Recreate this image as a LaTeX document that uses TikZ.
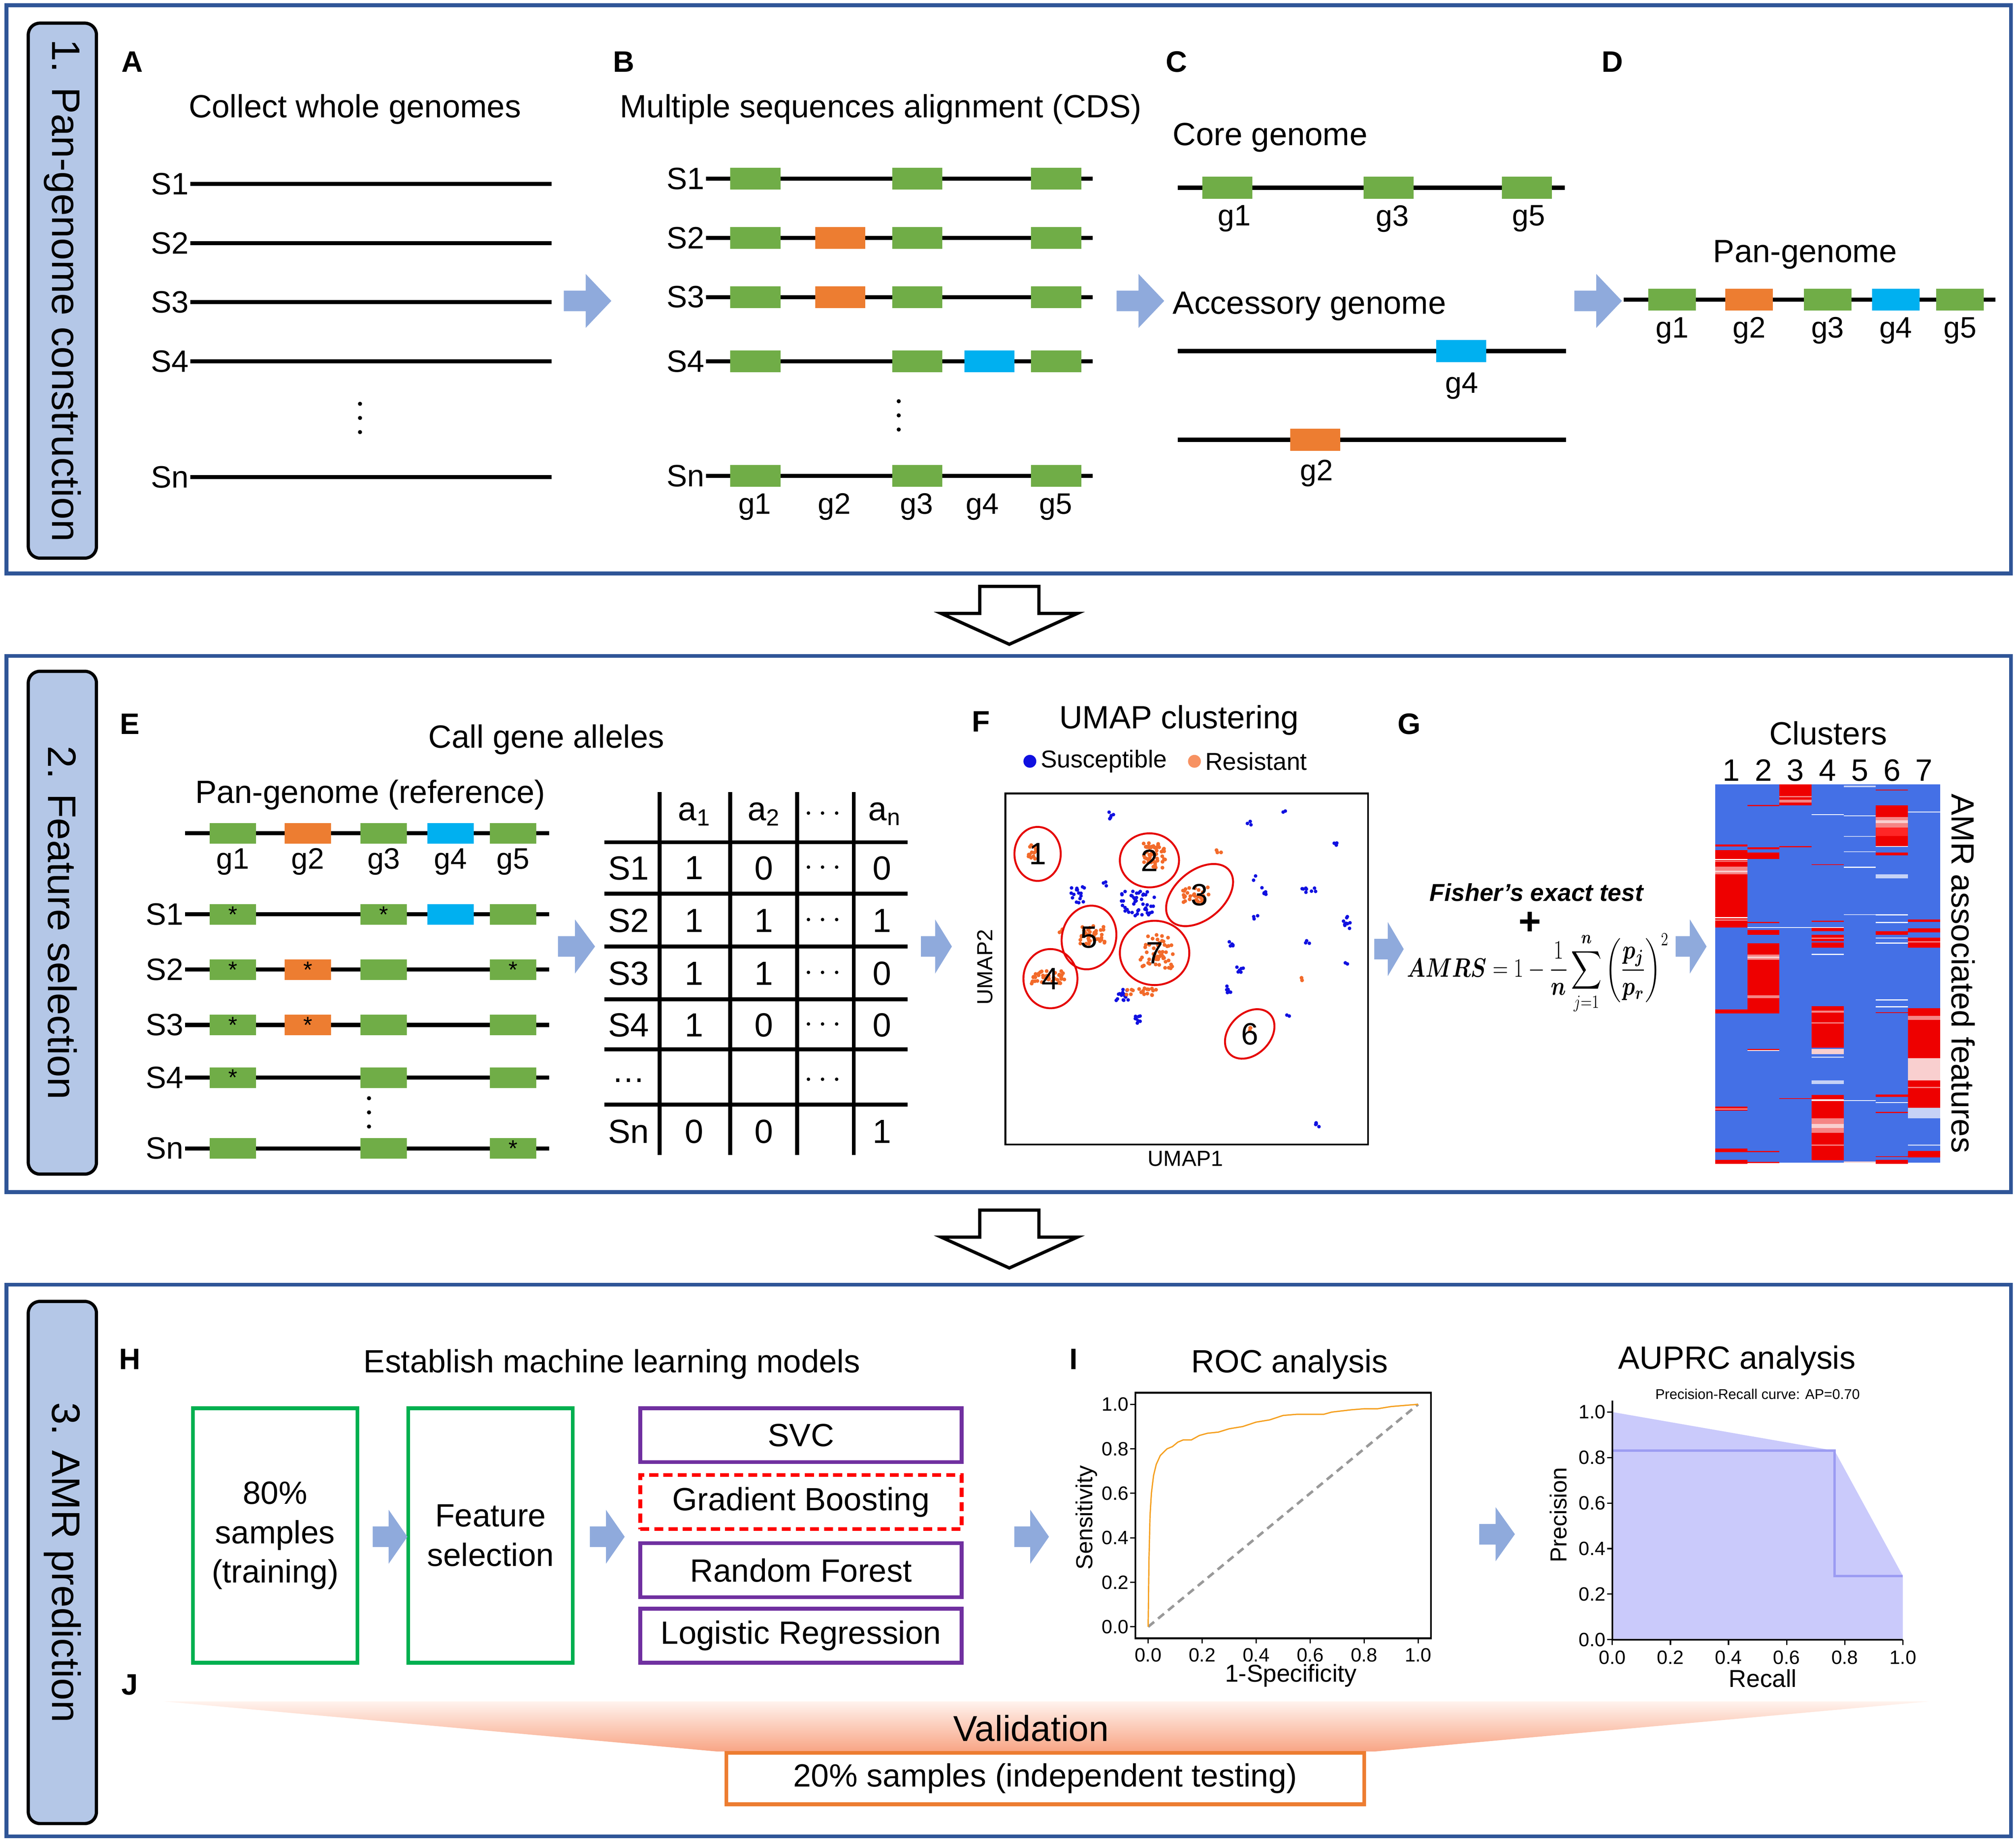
\documentclass[tikz,border=0pt]{standalone}
\usepackage{amsmath}
\usepackage{graphicx}
\usepackage{fontspec}
\setmainfont{Liberation Sans}
\usetikzlibrary{positioning}

\definecolor{frameblue}{HTML}{2F5597}
\definecolor{sideblue}{HTML}{B4C7E7}
\definecolor{arrowblue}{HTML}{8FAADC}
\definecolor{ggreen}{HTML}{70AD47}
\definecolor{gorange}{HTML}{ED7D31}
\definecolor{gcyan}{HTML}{00B0F0}
\colorlet{gene1}{ggreen}
\colorlet{gene2}{gorange}
\colorlet{gene3}{ggreen}
\colorlet{gene4}{gcyan}
\colorlet{gene5}{ggreen}
\definecolor{boxgreen}{HTML}{00B050}
\definecolor{boxpurple}{HTML}{7030A0}
\definecolor{heatblue}{HTML}{4470E6}
\definecolor{heatred}{HTML}{EE0000}
\definecolor{heatpink}{HTML}{F58585}
\definecolor{heatrose}{HTML}{F9CFCF}
\definecolor{heatpale}{HTML}{C6D2F6}
\definecolor{susc}{HTML}{1010E0}
\definecolor{resist}{HTML}{F26A2A}
\definecolor{resistlight}{HTML}{F79262}
\definecolor{rocorange}{HTML}{F5A020}
\definecolor{prfill}{HTML}{CACAFB}
\definecolor{prline}{HTML}{9C9CF2}
\definecolor{fanlight}{HTML}{FFF3EE}
\definecolor{fandark}{HTML}{F8A585}

\newcommand\fsz[1]{\fontsize{#1}{#1}\selectfont}

\tikzset{
  rarrow/.pic={\fill[arrowblue] (-18,-8) -- (-1,-8) -- (-1,-21) -- (19,0) -- (-1,21) -- (-1,8) -- (-18,8) -- cycle;},
  downarrow/.pic={\draw[line width=2.5pt,fill=white,line join=miter] (-23,0) -- (23,0) -- (23,21) -- (53,21) -- (0,45) -- (-53,21) -- (-23,21) -- cycle;}
}

\begin{document}
\begin{tikzpicture}[x=1pt,y=-1pt,
  panel/.style={draw=frameblue,line width=3pt},
  sidebox/.style={draw,line width=2.5pt,fill=sideblue,rounded corners=9pt,rotate=-90,minimum height=53pt,inner sep=0pt,font=\fsz{31}},
  letter/.style={inner sep=0pt,font=\fsz{23}\bfseries},
  heading/.style={inner sep=0pt,font=\fsz{25}},
  seq/.style={inner sep=1pt,anchor=east,font=\fsz{24}},
  gname/.style={inner sep=0pt,font=\fsz{23}},
  genome/.style={line width=3.2pt},
  gene/.style={fill=#1,minimum width=38pt,minimum height=17pt,inner sep=0pt,font=\fsz{18}},
  tabcell/.style={inner sep=0pt,font=\fsz{26}},
  tabline/.style={line width=3pt},
  ring/.style={draw=red!90!black,line width=1.5pt},
  model/.style={draw=boxpurple,line width=3pt,minimum width=250pt,minimum height=42pt,inner sep=0pt,font=\fsz{25}},
  trainbox/.style={draw=boxgreen,line width=3pt,minimum width=128pt,minimum height=198pt,inner sep=0pt,align=center,font=\fontsize{25}{30.5}\selectfont},
  ticklbl/.style={inner sep=1pt,font=\fsz{15}},
  axlbl/.style={inner sep=0pt,font=\fsz{18}},
]
\useasboundingbox (0,0) rectangle (1568,1433);

% frames and section labels
\draw[panel] (5,4) rectangle (1564,446);
\draw[panel] (5,510) rectangle (1564,927);
\draw[panel] (5,999) rectangle (1564,1428);
\node[sidebox,minimum width=416pt] (side1) at (48.5,226) {1. Pan-genome construction};
\node[sidebox,minimum width=391pt] (side2) at (48.5,717.5) {2. Feature selection};
\node[sidebox,minimum width=406pt] (side3) at (48.5,1215) {3. AMR prediction};
\pic at (785,456) {downarrow};
\pic at (785,941) {downarrow};

% A
\node[letter] (lA) at (103,48) {A};
\node[heading] (tA) at (276,85) {Collect whole genomes};
\foreach \r/\y in {1/143,2/189,3/235,4/281,n/371}{
  \node[seq] (a\r) at (148,\y) {S\r};
  \draw[genome] (a\r.east) -- (429,\y);
}
\foreach \d in {-11,0,11} \fill (280,{325+\d}) circle (1.6pt);
\pic at (456.5,234) {rarrow};

% B
\node[letter] (lB) at (485,48) {B};
\node[heading] (tB) at (685,85) {Multiple sequences alignment (CDS)};
\foreach \r/\y/\gl in {1/139/{1,3,5},2/185/{1,2,3,5},3/231/{1,2,3,5},4/281/{1,3,4,5},n/370/{1,3,5}}{
  \node[seq] (b\r) at (549,\y) {S\r};
  \draw[genome] (b\r.east) -- (850,\y);
  \foreach \g in \gl{
    \pgfmathsetmacro\gx{{587.5,653.5,713.5,769.5,821.5}[\g-1]}
    \node[gene=gene\g,minimum width=39pt] (b\r-\g) at (\gx,\y) {};
  }
}
\foreach \g/\x in {1/587,2/649,3/713,4/764,5/821} \node[gname] (bl\g) at (\x,394) {g\g};
\foreach \d in {-11,0,11} \fill (699,{323+\d}) circle (1.6pt);
\pic at (886.5,234) {rarrow};

% C
\node[letter] (lC) at (915,48) {C};
\node[heading,anchor=west] (tC) at (912,107) {Core genome};
\draw[genome] (916,146) -- (1217,146);
\foreach \g/\x/\lx in {1/954.5/960,3/1080/1083,5/1187.5/1189}{
  \node[gene=gene\g,minimum width=39pt] (c-\g) at (\x,146) {};
  \node[gname] (cl\g) at (\lx,170) {g\g};
}
\node[heading,anchor=west] (tAcc) at (912,238) {Accessory genome};
\draw[genome] (916,273) -- (1218,273);
\node[gene=gene4,minimum width=39pt] (c-4) at (1136.5,273) {};
\node[gname] (cl4) at (1137,300) {g4};
\draw[genome] (916,342) -- (1218,342);
\node[gene=gene2,minimum width=39pt] (c-2) at (1023,342) {};
\node[gname] (cl2) at (1024,368) {g2};
\pic at (1242.5,234) {rarrow};

% D
\node[letter] (lD) at (1254,48) {D};
\node[heading] (tD) at (1404,198) {Pan-genome};
\draw[genome] (1263,233) -- (1552,233);
\foreach \g/\x in {1/1300.5,2/1360.5,3/1421.5,4/1474.5,5/1524.5}{
  \node[gene=gene\g,minimum width=37pt] (d-\g) at (\x,233) {};
  \node[gname] (dl\g) at (\x,257) {g\g};
}

% E
\node[letter] (lE) at (101,563) {E};
\node[heading] (tE) at (425,575) {Call gene alleles};
\node[heading] (tRef) at (288,618) {Pan-genome (reference)};
\draw[genome] (144,648) -- (427,648);
\foreach \g/\x in {1/181,2/239.5,3/298.5,4/350.5,5/399}{
  \node[gene=gene\g,minimum width=36pt,minimum height=16pt] (e-\g) at (\x,648) {};
  \node[gname] (el\g) at (\x,670) {g\g};
}
\foreach \r/\y/\gl in {1/711/{1/*,3/*,4/,5/},2/754/{1/*,2/*,3/,5/*},3/797/{1/*,2/*,3/,5/},4/838/{1/*,3/,5/},n/893/{1/,3/,5/*}}{
  \node[seq] (e\r) at (144,\y) {S\r};
  \draw[genome] (e\r.east) -- (427,\y);
  \foreach \g/\s in \gl{
    \pgfmathsetmacro\gx{{181,239.5,298.5,350.5,399}[\g-1]}
    \node[gene=gene\g,minimum width=36pt,minimum height=16pt] (e\r-\g) at (\gx,\y) {\raisebox{-5pt}{\s}};
  }
}
\foreach \d in {-11,0,11} \fill (287,{865+\d}) circle (1.6pt);
\pic[xscale=.78] at (448,736) {rarrow};

% allele table
\foreach \y in {655,695,736,777,816,859} \draw[tabline] (470,\y) -- (706,\y);
\foreach \x in {513,568,620,664} \draw[tabline] (\x,616) -- (\x,898);
\node[tabcell] (h1) at (540,633) {a\textsubscript{1}};
\node[tabcell] (h2) at (594,633) {a\textsubscript{2}};
\node[tabcell] (h3) at (642,633) {$\cdots$};
\node[tabcell] (h4) at (688,633) {a\textsubscript{n}};
\foreach \r/\y/\a/\b/\c/\d [count=\i] in {S1/675/1/0/$\cdots$/0,S2/716/1/1/$\cdots$/1,S3/757/1/1/$\cdots$/0,S4/797/1/0/$\cdots$/0,\ldots/840/{}/{}/$\cdots$/{},Sn/880/0/0/{}/1}{
  \node[tabcell] (t\i-0) at (489,\y) {\r};
  \node[tabcell] (t\i-1) at (540,\y) {\a};
  \node[tabcell] (t\i-2) at (594,\y) {\b};
  \node[tabcell] (t\i-3) at (642,\y) {\c};
  \node[tabcell] (t\i-4) at (686,\y) {\d};
}
\pic[xscale=.65] at (728,736) {rarrow};

% F
\node[letter] (lF) at (763,561) {F};
\node[heading] (tF) at (917,560) {UMAP clustering};
\node[circle,fill=susc,minimum size=10pt,inner sep=0pt] (dotS) at (801,592) {};
\node[inner sep=0pt,font=\fsz{19},right=3pt of dotS] (legS) {Susceptible};
\node[circle,fill=resistlight,minimum size=10pt,inner sep=0pt] (dotR) at (929,592) {};
\node[inner sep=0pt,font=\fsz{19},right=3pt of dotR] (legR) {Resistant};
\draw[line width=1.5pt] (782,617) rectangle (1064,890);
\node[axlbl,rotate=90,font=\fsz{17}] (u2) at (766,752) {UMAP2};
\node[axlbl,font=\fsz{17}] (u1) at (922,901) {UMAP1};
\pgfmathsetseed{42}
\foreach \cx/\cy/\sx/\sy/\n in {864/634/3/3/5,999/630/1.5/1.5/2,972/640/2/2/3,1039/657/1.5/2/3,838/695/7/7/16,860/687/2/2/3,885/703/13/10/45,975/683/2/2/2,983/693/2/3/5,1018/692/6/2/8,1047/716/3/6/9,977/713/2/2/3,958/734/3/2/6,1017/733/2/2/3,1047/749/1/1/2,965/754/3/3/6,955/769/3/3/6,873/773/5/5/14,884/793/3/4/8,1001/789/2/2/2,1025/875/2/2/5}{
  \foreach \k in {1,...,\n} \fill[susc] ({\cx+\sx*rand},{\cy+\sy*rand}) circle (1.4pt);
}
\foreach \cx/\cy/\sx/\sy/\n in {803/662/4/6/14,898/665/9/10/55,930/696/10/6/32,850/727/10/7/40,900/740/13/13/55,815/760/13/5/40,973/800/2/2/3,948/661/2/2/3,1012/761/1.5/2/2,888/771/12/3/18,826/723/2/2/3}{
  \foreach \k in {1,...,\n} \fill[resist] ({\cx+\sx*rand},{\cy+\sy*rand}) circle (1.5pt);
}
\foreach \n/\x/\y/\rx/\ry/\a in {1/807/664/18/21/0,2/894/669/23/21/0,3/933/696/30/19/40,5/847/729/21/25/-15,7/898/741/27/25/0,4/817/761/21/23/0,6/972/804/22/16/45}{
  \draw[ring,rotate around={\a:(\x,\y)}] (\x,\y) ellipse [x radius=\rx pt,y radius=\ry pt];
  \node[inner sep=0pt,font=\fsz{24}] (ring\n) at (\x,\y) {\n};
}
\pic[xscale=.62] at (1080,738) {rarrow};

% G
\node[letter] (lG) at (1096,563) {G};
\node[inner sep=0pt,font=\fsz{19}\bfseries\itshape] (fisher) at (1195,694) {Fisher’s exact test};
\node[inner sep=0pt,font=\fsz{30}\bfseries] (plus) at (1190,718) {+};
\node[inner sep=0pt,font=\fsz{21}] (amrs) at (1196,757) {\scalebox{.8}[1]{$\displaystyle \boldsymbol{AMRS}=1-\frac{1}{\boldsymbol{n}}\sum_{j=1}^{\boldsymbol{n}}\left(\frac{\boldsymbol{p_j}}{\boldsymbol{p_r}}\right)^{2}$}};
\pic[xscale=.65] at (1315,736) {rarrow};

% heatmap
\node[heading] (tClu) at (1422,570) {Clusters};
\foreach \k in {1,...,7} \node[inner sep=0pt,font=\fsz{24}] (k\k) at ({1321.5+25*\k},599) {\k};
\fill[heatblue] (1334,610) rectangle (1509,904);
\foreach \c/\a/\b/\col in {1/656.8/658.2/heatred,1/660.9/721.4/heatred,1/668/668.8/white,1/669.5/670.3/heatpink,1/674/680/heatpink,1/677/678.3/heatrose,1/713/714/white,1/715/716/heatpink,1/785/788.2/heatred,1/860.5/863.6/heatred,1/862/862.8/heatrose,1/893/896/heatred,1/902/905/heatred,
  2/626/626.8/heatred,2/659/660.3/heatred,2/663/668/heatred,2/717/717.8/heatred,2/723/727/heatred,2/733.6/788/heatred,2/742.3/746.4/heatpink,2/744/745/heatrose,2/774/776/heatpink,2/815.7/816.7/heatred,2/816.7/817.3/white,2/895/895.8/heatred,2/903.5/904.3/heatred,
  3/610/626.2/heatred,3/619/620/heatpink,3/622/624/heatpink,3/658/658.8/heatred,3/853.8/854.6/heatred,
  4/633/633.8/white,4/672/672.6/heatred,4/716/717/heatred,4/721.4/724/heatred,4/727/732/heatred,4/729/730/heatpink,4/733/737/heatred,4/741.7/742.5/white,4/782.5/814.7/heatred,4/786/787.5/heatpink,4/795/796/heatpink,4/815.7/819.8/heatrose,4/821.5/822.5/heatpale,4/840/843/heatpale,4/851.3/902.3/heatred,4/855/856/white,4/869.7/880.9/heatpink,4/874/877/heatrose,4/890/891/heatpink,
  5/611/612/heatpale,5/634/634.8/white,5/650/650.6/heatpale,5/662/662.6/heatpale,5/674/674.8/white,5/710.8/711.6/heatpale,5/855.4/856.2/white,5/903/904/heatrose,
  6/614/614.7/heatred,6/626.2/657.8/heatred,6/635.4/643.5/heatpink,6/638/640/heatrose,6/643.5/650/red!85!white,6/657.8/658.6/white,6/663/665/heatred,6/680/683/heatpale,6/711/711.8/white,6/717/717.8/white,6/724/727/heatred,6/729/729.8/white,6/733/733.8/white,6/777/778/white,6/782.5/783.3/white,6/787/787.8/heatred,6/851/853/heatred,6/857/857.8/white,6/864.6/865.4/heatred,6/899/899.8/heatred,6/902/905/heatred,
  7/631/632/heatpale,7/715/717/heatred,7/722/725/heatred,7/729/737/heatred,7/732/733/heatpink,7/784/812.6/heatred,7/790/793/heatpink,7/812.6/822.8/heatred,7/822.8/840/heatrose,7/840/861.5/heatred,7/845/846/heatpink,7/861.5/869.7/heatpale,7/890/891/heatpale,7/895/900/heatred}
  \fill[\col] ({1309+25*\c},\a) rectangle ({1334+25*\c},\b);
\fill[white] (1359,721) rectangle (1434,721.6);
\node[rotate=-90,inner sep=0pt,font=\fsz{25}] (amrf) at (1527,757) {AMR associated features};

% H
\node[letter] (lH) at (101,1057) {H};
\node[heading] (tH) at (476,1061) {Establish machine learning models};
\node[trainbox] (train) at (214,1194) {80\%\\samples\\(training)};
\node[trainbox] (fsel) at (381.5,1194) {Feature\\selection};
\node[model] (svc) at (623,1116) {SVC};
\node[model,draw=red,dash pattern=on 7pt off 4pt] (gb) at (623,1168) {Gradient Boosting};
\node[model] (rf) at (623,1221) {Random Forest};
\node[model] (lr) at (623,1272) {Logistic Regression};
\pic[xscale=.73] at (303,1195) {rarrow};
\pic[xscale=.73] at (472,1195) {rarrow};
\pic[xscale=.73] at (802,1195) {rarrow};

% I
\node[letter] (lI) at (835,1057) {I};
\node[heading] (tI) at (1003,1061) {ROC analysis};
\draw[line width=1.3pt] (883,1083) rectangle (1113,1274);
\begin{scope}[shift={(893,1265)},x=210pt,y=173pt]
  \draw[gray!80,line width=2pt,dash pattern=on 6pt off 4pt] (0,0) -- (1,1);
  \draw[rocorange,line width=1pt] plot coordinates {(0,0) (0.003,0.3) (0.007,0.5) (0.012,0.6) (0.02,0.68) (0.03,0.73) (0.045,0.77) (0.07,0.8) (0.09,0.81) (0.11,0.83) (0.13,0.84) (0.16,0.84) (0.19,0.86) (0.22,0.87) (0.26,0.875) (0.3,0.89) (0.35,0.9) (0.4,0.92) (0.45,0.93) (0.5,0.95) (0.55,0.955) (0.6,0.955) (0.65,0.955) (0.68,0.965) (0.75,0.975) (0.8,0.98) (0.85,0.98) (0.9,0.99) (0.95,0.995) (1,1)};
\end{scope}
\foreach \v/\l [count=\i] in {0/0.0,0.2/0.2,0.4/0.4,0.6/0.6,0.8/0.8,1/1.0}{
  \draw[line width=1pt] (879,{1265-173*\v}) -- (883,{1265-173*\v});
  \node[ticklbl,anchor=east] (rocy\i) at (879,{1265-173*\v}) {\l};
  \draw[line width=1pt] ({893+210*\v},1274) -- ({893+210*\v},1278);
  \node[ticklbl] (rocx\i) at ({893+210*\v},1287) {\l};
}
\node[axlbl,rotate=90] (sens) at (845,1180) {Sensitivity};
\node[axlbl,font=\fsz{19}] (spec) at (1004,1303) {1-Specificity};
\pic[xscale=.75] at (1164,1193) {rarrow};

% AUPRC
\node[heading] (tAU) at (1351,1058) {AUPRC analysis};
\node[inner sep=0pt,font=\fsz{11}] (prt) at (1367,1084) {Precision-Recall curve: AP=0.70};
\begin{scope}[shift={(1254,1275)},x=226pt,y=177pt]
  \fill[prfill] (0,1) -- (0.765,0.83) -- (1,0.28) -- (1,0) -- (0,0) -- cycle;
  \draw[prline,line width=1.8pt] (0,0.83) -- (0.765,0.83) -- (0.765,0.28) -- (1,0.28);
  \draw[line width=1.3pt] (0,1.05) -- (0,0) -- (1,0);
\end{scope}
\foreach \v/\l [count=\i] in {0/0.0,0.2/0.2,0.4/0.4,0.6/0.6,0.8/0.8,1/1.0}{
  \draw[line width=1pt] (1250,{1275-177*\v}) -- (1254,{1275-177*\v});
  \node[ticklbl,anchor=east] (pry\i) at (1250,{1275-177*\v}) {\l};
  \draw[line width=1pt] ({1254+226*\v},1275) -- ({1254+226*\v},1279);
  \node[ticklbl] (prx\i) at ({1254+226*\v},1289) {\l};
}
\node[axlbl,rotate=90] (prec) at (1212,1178) {Precision};
\node[axlbl,font=\fsz{19}] (rec) at (1371,1305) {Recall};

% J
\node[letter] (lJ) at (101,1310) {J};
\shade[top color=fanlight,bottom color=fandark] (127,1323) -- (1501,1323) -- (1069,1362) -- (558,1362) -- cycle;
\node[inner sep=0pt,font=\fsz{28}] (valid) at (802,1344) {Validation};
\node[draw=gorange,line width=3pt,minimum width=496pt,minimum height=40pt,inner sep=0pt,font=\fsz{25}] (test) at (813,1383) {20\% samples (independent testing)};
\end{tikzpicture}
\end{document}
